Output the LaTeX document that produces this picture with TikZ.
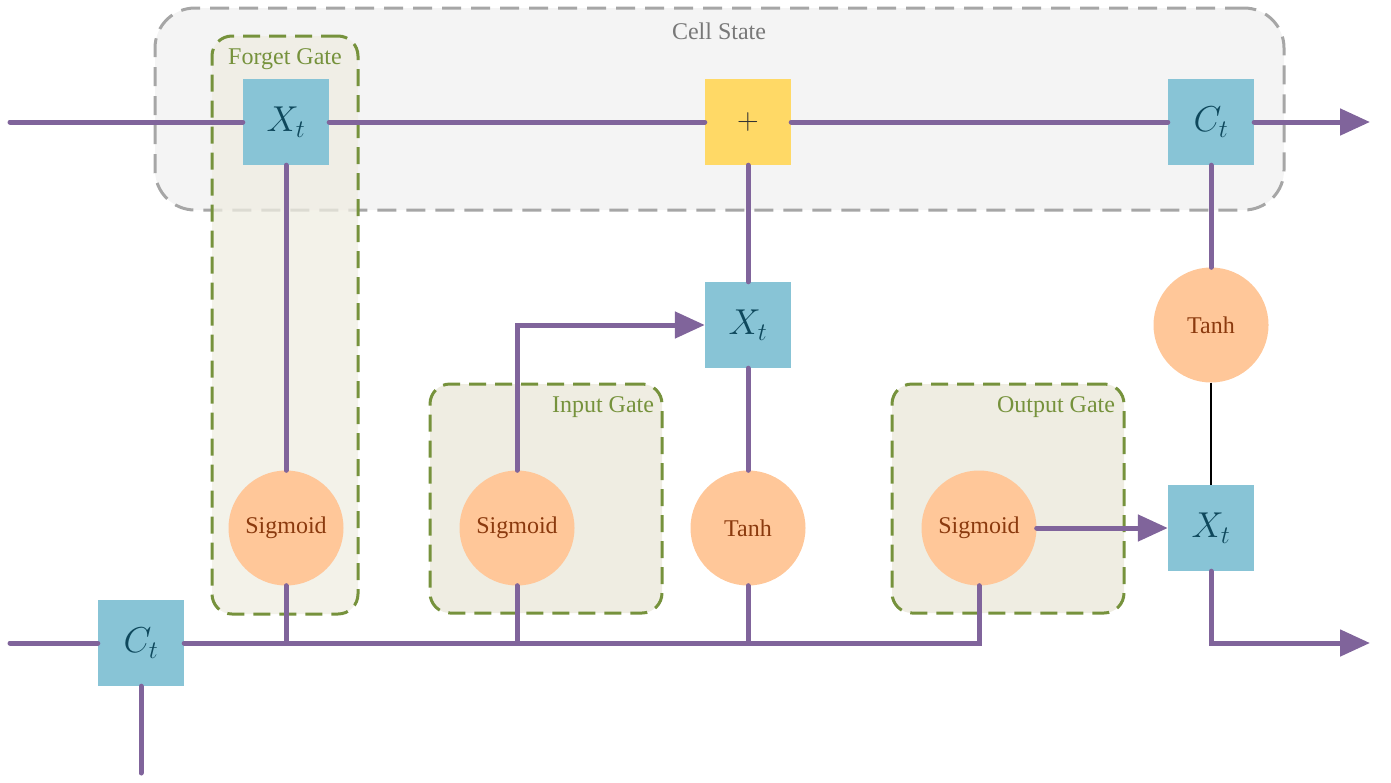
\RequirePackage{fix-cm}
\documentclass[tikz,border=0pt]{standalone}
\usepackage{fontspec}
\setmainfont{Liberation Serif}
\usetikzlibrary{arrows.meta}

\definecolor{linkpurple}{RGB}{128,100,155}
\definecolor{sqblue}{RGB}{136,196,214}
\definecolor{sqtext}{RGB}{14,72,92}
\definecolor{addyellow}{RGB}{255,217,102}
\definecolor{circfill}{RGB}{255,199,153}
\definecolor{circtext}{RGB}{139,58,14}
\definecolor{gategreen}{RGB}{118,146,60}
\definecolor{gatefill}{RGB}{239,237,226}
\definecolor{cellfill}{RGB}{244,244,244}
\definecolor{cellgray}{RGB}{166,166,166}
\definecolor{celltext}{RGB}{120,120,120}

\begin{document}
\begin{tikzpicture}[x=1pt,y=-1pt,
  sq/.style={fill=sqblue, minimum size=86pt, inner sep=0pt, text=sqtext,
             font=\fontsize{36}{42}\selectfont},
  addbox/.style={sq, fill=addyellow, text=black!80, font=\fontsize{30}{36}\selectfont},
  circ/.style={circle, fill=circfill, minimum size=115pt, inner sep=0pt,
               text=circtext, font=\fontsize{24}{28}\selectfont},
  link/.style={draw=linkpurple, line width=5pt, line cap=round},
  arr/.style={link, -{Triangle[length=30pt,width=26pt]}},
  gatebox/.style={draw=gategreen, line width=3pt, dash pattern=on 17pt off 9pt,
                  fill=gatefill, rounded corners=20pt, inner sep=0pt},
  cellbox/.style={draw=cellgray, line width=3pt, dash pattern=on 19pt off 10pt,
                  fill=cellfill, rounded corners=40pt, inner sep=0pt},
  gatelabel/.style={text=gategreen, font=\fontsize{24}{28}\selectfont, inner sep=0pt},
]
\useasboundingbox (0,0) rectangle (1391,782);

% grouping boxes
\node[cellbox, minimum width=1129pt, minimum height=202pt] (cell) at (719.5,109) {};
\node[text=celltext, font=\fontsize{24}{28}\selectfont, inner sep=0pt] (celllbl) at (719,31) {Cell State};
\node[gatebox, fill opacity=0.75, minimum width=146pt, minimum height=578pt] (fgate) at (285,325) {};
\node[gatelabel] (fgatelbl) at (285,59) {Forget Gate};
\node[gatebox, minimum width=232pt, minimum height=229pt] (igate) at (546,498.5) {};
\node[gatelabel] (igatelbl) at (603,407) {Input Gate};
\node[gatebox, minimum width=232pt, minimum height=229pt] (ogate) at (1008,498.5) {};
\node[gatelabel] (ogatelbl) at (1056,407) {Output Gate};

% operation nodes
\node[sq] (xf) at (286,122) {$X_t$};
\node[addbox] (add) at (748,122) {$+$};
\node[sq] (ctT) at (1211,122) {$C_t$};
\node[sq] (xm) at (748,325) {$X_t$};
\node[sq] (xo) at (1211,528) {$X_t$};
\node[sq] (ct0) at (141,643) {$C_t$};
\node[circ] (tanhT) at (1211,325) {Tanh};
\node[circ] (sigF) at (286,528) {Sigmoid};
\node[circ] (sigI) at (517,528) {Sigmoid};
\node[circ] (tanhM) at (748,528) {Tanh};
\node[circ] (sigO) at (979,528) {Sigmoid};

% free ends
\coordinate (inT) at (10,122);
\coordinate (outT) at (1370,122);
\coordinate (inB) at (10,643);
\coordinate (inC) at (141,773);
\coordinate (outB) at (1370,643);

% cell state path
\draw[link] (inT) -- (xf.west);
\draw[link] (xf.east) -- (add.west);
\draw[link] (add.east) -- (ctT.west);
\draw[arr] (ctT.east) -- (outT);

% gate connections
\draw[link] (xf.south) -- (sigF.north);
\draw[link] (add.south) -- (xm.north);
\draw[link] (xm.south) -- (tanhM.north);
\draw[arr] (sigI.north) |- (xm.west);
\draw[link] (ctT.south) -- (tanhT.north);
\draw[black, line width=2.5pt] (tanhT.south) -- (xo.north);
\draw[arr] (sigO.east) -- (xo.west);
\draw[arr] (xo.south) |- (outB);

% input bus
\draw[link] (inB) -- (ct0.west);
\draw[link] (ct0.south) -- (inC);
\draw[link] (ct0.east) -| (sigO.south);
\draw[link] (sigF.south) -- (sigF.south |- ct0.east);
\draw[link] (sigI.south) -- (sigI.south |- ct0.east);
\draw[link] (tanhM.south) -- (tanhM.south |- ct0.east);
\end{tikzpicture}
\end{document}
